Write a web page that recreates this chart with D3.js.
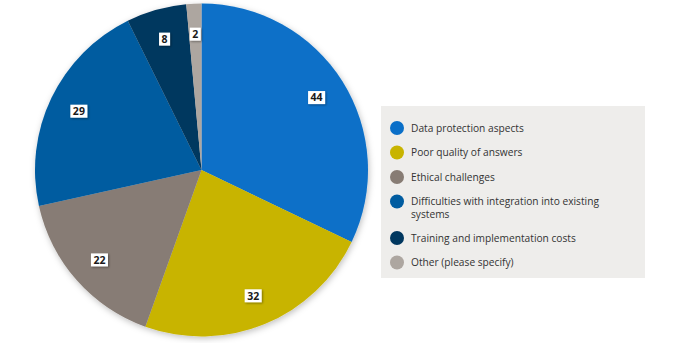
<!DOCTYPE html>
<html><head><meta charset="utf-8">
<script src="https://cdn.jsdelivr.net/npm/d3@7"></script>
<style>
html,body{margin:0;padding:0;background:#fff;}
svg{display:block;font-family:"Open Sans",sans-serif;}
</style></head>
<body>
<svg id="c" width="686" height="343"></svg>
<script>
const categories = ["Data protection aspects","Poor quality of answers","Ethical challenges","Difficulties with integration into existing systems","Training and implementation costs","Other (please specify)"];
const legendLines = [["Data protection aspects"],["Poor quality of answers"],["Ethical challenges"],["Difficulties with integration into existing","systems"],["Training and implementation costs"],["Other (please specify)"]];
const values = [44, 32, 22, 29, 8, 2];
const colors = ["#0A6FC8","#C8B400","#877C74","#005CA0","#00375F","#ADA6A0"];

const svg = d3.select("#c");
const defs = svg.append("defs");
const f = defs.append("filter").attr("id","sh").attr("x","-20%").attr("y","-20%").attr("width","140%").attr("height","140%");
f.append("feDropShadow").attr("dx",1).attr("dy",2).attr("stdDeviation",3).attr("flood-color","#000").attr("flood-opacity",0.25);
const f2 = defs.append("filter").attr("id","sh2").attr("x","-30%").attr("y","-30%").attr("width","160%").attr("height","160%");
f2.append("feDropShadow").attr("dx",1).attr("dy",1).attr("stdDeviation",0.8).attr("flood-color","#000").attr("flood-opacity",0.4);

const cx = 201.5, cy = 170, R = 166.5;
const pie = d3.pie().sort(null).value(d => d);
const arcs = pie(values);
const arc = d3.arc().innerRadius(0).outerRadius(R);
const labelArc = d3.arc().innerRadius(136).outerRadius(136);

const g = svg.append("g").attr("transform", `translate(${cx},${cy})`);
const sl = g.append("g").attr("filter","url(#sh)");
sl.selectAll("path").data(arcs).join("path")
  .attr("d", arc).attr("fill", (d,i) => colors[i]);

const lg = g.selectAll("g.lab").data(arcs).join("g").attr("class","lab")
  .attr("transform", d => `translate(${labelArc.centroid(d)})`);
lg.each(function(d){
  const s = d3.select(this);
  const t = s.append("text").text(d.data).attr("text-anchor","middle").attr("dy","0.36em")
    .attr("font-size",10.5).attr("font-weight",700).attr("fill","#1a1a1a");
  const w = t.node().getComputedTextLength();
  s.insert("rect","text").attr("x",-w/2-2.5).attr("y",-6.5).attr("width",w+5).attr("height",13)
    .attr("fill","#fff").attr("filter","url(#sh2)");
});

// legend
const L = svg.append("g");
L.append("rect").attr("x",381).attr("y",106).attr("width",264).attr("height",172).attr("fill","#EEEDEB");
let y = 128;
categories.forEach((c,i) => {
  const row = L.append("g").attr("transform",`translate(0,${y})`);
  row.append("circle").attr("cx",397).attr("cy",0).attr("r",7).attr("fill",colors[i]);
  legendLines[i].forEach((ln,j) => {
    row.append("text").attr("x",411).attr("y",j*13).attr("dy","0.35em")
      .attr("font-size",10.2).attr("fill","#333").text(ln);
  });
  y += 24.5 + (legendLines[i].length-1)*12;
});
</script>
</body></html>
